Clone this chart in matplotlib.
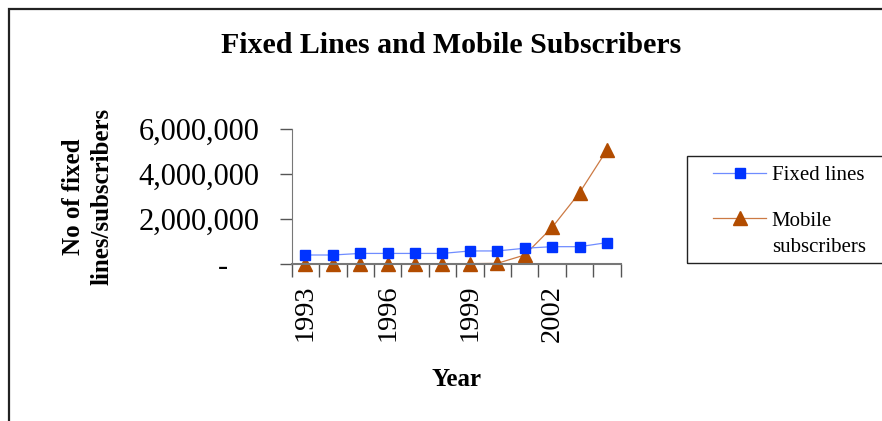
import matplotlib
matplotlib.use("Agg")
import matplotlib.pyplot as plt
import matplotlib.transforms as mtransforms
from matplotlib.patches import Rectangle
from matplotlib.ticker import FuncFormatter

# data
years = [1993, 1994, 1995, 1996, 1997, 1998, 1999, 2000, 2001, 2002, 2003, 2004]
fixed_lines = [400000, 400000, 470000, 470000, 470000, 470000, 580000, 580000,
               700000, 770000, 770000, 950000]
mobile_subs = [1000, 2000, 3000, 4000, 6000, 9000, 15000, 30000,
               400000, 1630000, 3170000, 5070000]
shown_years = [1993, 1996, 1999, 2002]

plt.rcParams['font.family'] = ['Liberation Serif', 'DejaVu Serif']

W, H = 882, 421
fig = plt.figure(figsize=(W / 100, H / 100), dpi=100)

# outer chart border (cut off at right and bottom like the original)
fig.patches.append(Rectangle((8.5 / W, -0.1), 1.2, 1.1 - 9 / H,
                             transform=fig.transFigure, fill=False,
                             edgecolor='#222222', linewidth=1.6))

ax = fig.add_axes([291.7 / W, 1 - 264 / H, 329 / W, 135 / H])

x = list(range(len(years)))
ax.plot(x, fixed_lines, color='#6f8cff', linewidth=0.9, marker='s',
        markersize=7, markerfacecolor='#0033ff', markeredgecolor='#0033ff',
        label='Fixed lines', clip_on=False, zorder=3)
ax.plot(x, mobile_subs, color='#cc7a44', linewidth=0.9, marker='^',
        markersize=10, markerfacecolor='#b24c00', markeredgecolor='#b24c00',
        label='Mobile', clip_on=False, zorder=2)

ax.set_xlim(-0.5, len(years) - 0.5)
ax.set_ylim(0, 6000000)
ax.set_yticks([0, 2000000, 4000000, 6000000])
ax.yaxis.set_major_formatter(FuncFormatter(
    lambda v, p: '-' if v == 0 else '{:,.0f}'.format(v)))

# category boundaries get the tick marks, labels sit in the categories
ax.set_xticks([i - 0.5 for i in range(len(years) + 1)], minor=True)
ax.set_xticks([years.index(y) for y in shown_years])
ax.set_xticklabels([str(y) for y in shown_years], rotation=90)
ax.tick_params(axis='x', which='major', length=0, pad=15, labelsize=20.5)
ax.tick_params(axis='x', which='minor', length=9, width=1, color='#555555')
ax.tick_params(axis='y', length=9, width=1, color='#555555', pad=14,
               labelsize=22)

for s in ['top', 'right']:
    ax.spines[s].set_visible(False)
ax.spines['left'].set_color('#777777')
ax.spines['bottom'].set_color('#777777')
ax.spines['bottom'].set_linewidth(1.5)

ax.set_xlabel('Year', fontsize=18, fontweight='bold', labelpad=18.5)
ax.set_ylabel('No of fixed\nlines/subscribers', fontsize=18,
              fontweight='bold', labelpad=18, linespacing=1.3)

fig.text(451 / W, 1 - 53 / H, 'Fixed Lines and Mobile Subscribers',
         ha='center', va='baseline', fontsize=21.5, fontweight='bold')

# legend box runs off the right edge in the original
fig.patches.append(Rectangle((687 / W, 1 - 263 / H), 0.3, 107 / H,
                             transform=fig.transFigure, fill=False,
                             edgecolor='#222222', linewidth=1))
leg = ax.legend(loc='upper left', bbox_to_anchor=(705 / W, 1 - 157 / H),
                bbox_transform=fig.transFigure, fontsize=15, frameon=False,
                handlelength=2.55, handletextpad=0.25, labelspacing=1.25,
                borderaxespad=0)

fig.canvas.draw()

# the zero label "-" sits left of the number column, like Excel's accounting format
zero_lab = ax.yaxis.get_major_ticks()[0].label1
zero_lab.set_transform(zero_lab.get_transform() +
                       mtransforms.ScaledTranslation(-23 / 72, 0, fig.dpi_scale_trans))

# second line of the mobile label, under "Mobile"
bb = leg.get_texts()[1].get_window_extent()
fig.text(bb.x0 / W, (bb.y0 - 26) / H, 'subscribers', fontsize=15,
         ha='left', va='bottom')

fig.savefig('out.png', dpi=100)
